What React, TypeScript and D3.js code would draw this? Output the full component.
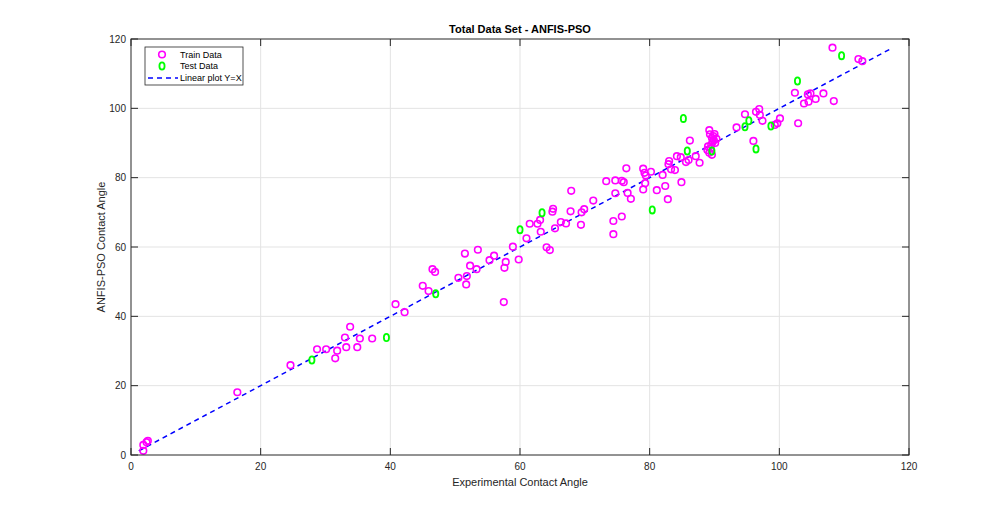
import { useEffect, useRef } from 'react';
import * as d3 from 'd3';

// [experimental, predicted]
const trainData: [number, number][] = [
  [1.9, 1.2], [1.9, 2.9], [2.6, 4.1], [2.4, 3.7], [16.4, 18.1], [24.6, 25.9],
  [28.7, 30.5], [30.1, 30.5], [31.5, 27.9], [31.8, 30.1], [33.2, 31.1], [33.0, 33.9],
  [34.9, 31.1], [35.3, 33.6], [37.2, 33.6], [33.8, 37.0], [40.8, 43.5], [42.2, 41.2],
  [45.0, 48.8], [45.9, 47.3], [46.5, 53.6], [46.9, 52.8], [50.5, 51.1], [51.7, 49.2],
  [51.8, 51.6], [51.5, 58.1], [52.3, 54.6], [53.3, 53.6], [53.5, 59.2], [55.3, 56.2],
  [56.0, 57.5], [57.8, 55.7], [57.6, 54.0], [57.5, 44.1], [58.9, 60.1], [59.8, 56.4],
  [64.1, 59.9], [64.6, 59.1], [61.0, 62.5], [61.5, 66.7], [62.7, 66.7], [63.1, 67.8],
  [63.2, 64.4], [65.0, 70.2], [65.1, 71.0], [65.4, 65.4], [66.3, 67.2], [67.1, 66.8],
  [67.8, 70.3], [67.9, 76.2], [69.4, 66.4], [69.5, 70.0], [69.9, 70.9], [71.3, 73.4],
  [73.3, 79.0], [74.7, 79.2], [74.7, 75.5], [74.4, 67.5], [74.4, 63.7], [75.7, 68.8],
  [75.7, 79.1], [76.0, 78.7], [76.4, 82.7], [76.6, 75.6], [77.1, 73.9], [79.0, 82.6],
  [79.0, 76.6], [79.2, 81.4], [79.4, 80.6], [79.3, 78.4], [80.2, 81.7], [81.1, 76.4],
  [82.0, 80.8], [82.4, 77.6], [82.8, 73.8], [83.0, 84.8], [82.9, 83.9], [83.3, 82.4],
  [83.9, 82.2], [84.2, 86.2], [84.9, 78.7], [84.8, 85.9], [85.6, 84.5], [86.0, 85.1],
  [86.2, 90.7], [87.1, 86.2], [87.7, 84.3], [88.9, 88.0], [89.2, 93.7], [89.3, 92.5],
  [89.6, 91.5], [89.9, 90.8], [90.1, 90.0], [89.5, 89.5], [89.8, 92.0], [90.3, 91.2],
  [89.0, 89.0], [89.2, 87.2], [89.4, 88.4], [89.7, 90.3], [90.0, 92.6], [89.6, 86.6],
  [93.4, 94.5], [94.7, 98.3], [96.0, 90.6], [96.4, 99.0],
  [96.9, 99.8], [97.4, 96.4], [97.0, 98.1], [99.3, 95.2], [99.7, 95.7], [100.1, 97.1],
  [102.4, 104.5], [102.9, 95.7], [103.8, 101.4], [104.5, 101.9], [104.4, 104.0],
  [104.8, 104.3], [105.6, 102.7], [106.8, 104.3], [108.4, 102.1], [108.2, 117.5],
  [112.2, 114.2], [112.8, 113.6],
];

const testData: [number, number][] = [
  [27.9, 27.4], [39.4, 33.9], [47.0, 46.5], [60.0, 65.0], [63.4, 69.9], [80.4, 70.7],
  [85.8, 87.7], [89.6, 87.7], [85.2, 97.1], [94.7, 94.7], [95.3, 96.4], [96.4, 88.3],
  [98.7, 94.9], [102.8, 107.9], [109.6, 115.2],
];

const lineRange = [1.2, 117.0];
const xTicks = [0, 20, 40, 60, 80, 100, 120];
const yTicks = [0, 20, 40, 60, 80, 100, 120];
const legendItems = ['Train Data', 'Test Data', 'Linear plot Y=X'];

const W = 1004;
const H = 511;
const FONT = 'Liberation Sans, Arial, sans-serif';
const AXIS = '#262626';

export default function App() {
  const svgRef = useRef<SVGSVGElement>(null);

  useEffect(() => {
    if (!svgRef.current) return;
    const svg = d3.select(svgRef.current);
    svg.selectAll('*').remove();

    const left = 131, right = 909, top = 39, bottom = 455;
    const x = d3.scaleLinear().domain([0, 120]).range([left, right]);
    const y = d3.scaleLinear().domain([0, 120]).range([bottom, top]);

    svg.append('rect').attr('width', W).attr('height', H).attr('fill', '#fff');

    // grid
    const grid = svg.append('g').attr('stroke', '#e3e3e3').attr('stroke-width', 1);
    xTicks.slice(1, -1).forEach((t) => {
      grid.append('line').attr('x1', x(t)).attr('x2', x(t)).attr('y1', top).attr('y2', bottom);
    });
    yTicks.slice(1, -1).forEach((t) => {
      grid.append('line').attr('y1', y(t)).attr('y2', y(t)).attr('x1', left).attr('x2', right);
    });

    // y = x line
    svg.append('line')
      .attr('x1', x(lineRange[0])).attr('y1', y(lineRange[0]))
      .attr('x2', x(lineRange[1])).attr('y2', y(lineRange[1]))
      .attr('stroke', '#0000ff')
      .attr('stroke-width', 1.5)
      .attr('stroke-dasharray', '5,4');

    // train points
    svg.append('g').selectAll('circle').data(trainData).enter().append('circle')
      .attr('cx', (d) => x(d[0]))
      .attr('cy', (d) => y(d[1]))
      .attr('r', 3.3)
      .attr('fill', 'none')
      .attr('stroke', '#ff00ff')
      .attr('stroke-width', 1.6);

    // test points
    svg.append('g').selectAll('ellipse').data(testData).enter().append('ellipse')
      .attr('cx', (d) => x(d[0]))
      .attr('cy', (d) => y(d[1]))
      .attr('rx', 2.6)
      .attr('ry', 3.6)
      .attr('fill', 'none')
      .attr('stroke', '#00ff00')
      .attr('stroke-width', 1.8);

    // axes box + ticks
    const ax = svg.append('g').attr('stroke', AXIS).attr('stroke-width', 1).attr('fill', 'none');
    ax.append('rect').attr('x', left).attr('y', top).attr('width', right - left).attr('height', bottom - top);
    const tl = 7;
    xTicks.forEach((t) => {
      ax.append('line').attr('x1', x(t)).attr('x2', x(t)).attr('y1', bottom).attr('y2', bottom - tl);
      ax.append('line').attr('x1', x(t)).attr('x2', x(t)).attr('y1', top).attr('y2', top + tl);
    });
    yTicks.forEach((t) => {
      ax.append('line').attr('y1', y(t)).attr('y2', y(t)).attr('x1', left).attr('x2', left + tl);
      ax.append('line').attr('y1', y(t)).attr('y2', y(t)).attr('x1', right).attr('x2', right - tl);
    });

    // tick labels
    svg.append('g').selectAll('text').data(xTicks).enter().append('text')
      .attr('x', (d) => x(d))
      .attr('y', bottom + 15)
      .attr('text-anchor', 'middle')
      .style('font-family', FONT)
      .style('font-size', '10px')
      .style('fill', AXIS)
      .text((d) => d);
    svg.append('g').selectAll('text').data(yTicks).enter().append('text')
      .attr('x', left - 5)
      .attr('y', (d) => y(d) + 3.5)
      .attr('text-anchor', 'end')
      .style('font-family', FONT)
      .style('font-size', '10px')
      .style('fill', AXIS)
      .text((d) => d);

    // title and axis labels
    svg.append('text')
      .attr('x', (left + right) / 2)
      .attr('y', 33)
      .attr('text-anchor', 'middle')
      .style('font-family', FONT)
      .style('font-size', '11px')
      .style('font-weight', '700')
      .style('fill', '#000')
      .text('Total Data Set - ANFIS-PSO');
    svg.append('text')
      .attr('x', (left + right) / 2)
      .attr('y', 486)
      .attr('text-anchor', 'middle')
      .style('font-family', FONT)
      .style('font-size', '11px')
      .style('fill', AXIS)
      .text('Experimental Contact Angle');
    svg.append('text')
      .attr('transform', `translate(105, ${(top + bottom) / 2}) rotate(-90)`)
      .attr('text-anchor', 'middle')
      .style('font-family', FONT)
      .style('font-size', '11px')
      .style('fill', AXIS)
      .text('ANFIS-PSO Contact Angle');

    // legend
    const lg = svg.append('g');
    lg.append('rect')
      .attr('x', 145).attr('y', 47).attr('width', 98).attr('height', 38)
      .attr('fill', '#fff').attr('stroke', AXIS).attr('stroke-width', 0.8);
    const rows = [54.5, 66, 78];
    lg.append('circle').attr('cx', 162).attr('cy', rows[0]).attr('r', 3.3)
      .attr('fill', 'none').attr('stroke', '#ff00ff').attr('stroke-width', 1.6);
    lg.append('ellipse').attr('cx', 162).attr('cy', rows[1]).attr('rx', 2.6).attr('ry', 3.6)
      .attr('fill', 'none').attr('stroke', '#00ff00').attr('stroke-width', 1.8);
    lg.append('line').attr('x1', 148).attr('x2', 178).attr('y1', rows[2]).attr('y2', rows[2])
      .attr('stroke', '#0000ff').attr('stroke-width', 1.5).attr('stroke-dasharray', '5,4');
    legendItems.forEach((t, i) => {
      lg.append('text')
        .attr('x', 180)
        .attr('y', rows[i] + 3)
        .style('font-family', FONT)
        .style('font-size', '9px')
        .style('fill', '#000')
        .text(t);
    });
  }, []);

  return (
    <svg
      ref={svgRef}
      width={W}
      height={H}
      style={{ position: 'absolute', left: 0, top: 0, display: 'block' }}
    />
  );
}
